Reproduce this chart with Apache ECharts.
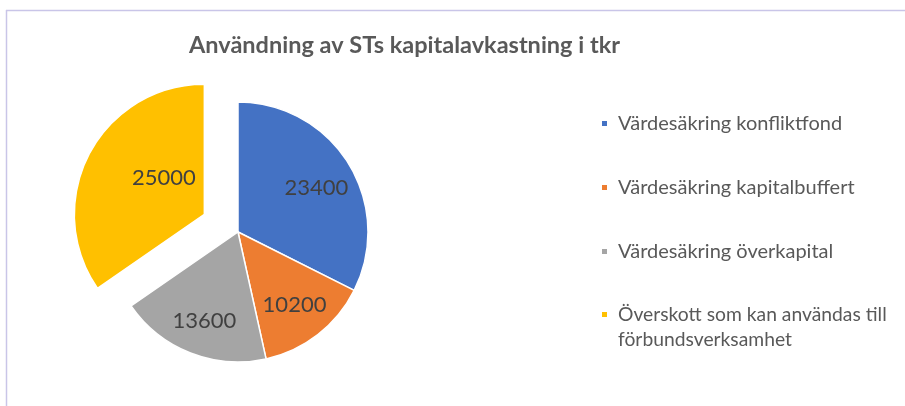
<!DOCTYPE html>
<html>
<head>
<meta charset="utf-8">
<script src="https://cdn.jsdelivr.net/npm/echarts@6/dist/echarts.min.js"></script>
<style>
  html, body { margin: 0; padding: 0; background: #fff; }
  #chart { width: 905px; height: 406px; }
</style>
</head>
<body>
<div id="chart"></div>
<script>
  var titleText = 'Användning av STs kapitalavkastning i tkr';
  var categories = [
    'Värdesäkring konfliktfond',
    'Värdesäkring kapitalbuffert',
    'Värdesäkring överkapital',
    'Överskott som kan användas till förbundsverksamhet'
  ];
  var values = [23400, 10200, 13600, 25000];
  var colors = ['#4472C4', '#ED7D31', '#A5A5A5', '#FFC000'];
  var explodedIndex = 3;

  var font = 'Lato, Carlito, "Liberation Sans", sans-serif';

  function pieData(withColor) {
    return values.map(function (v, i) {
      return {
        name: categories[i],
        value: v,
        selected: i === explodedIndex,
        itemStyle: withColor ? { color: colors[i] } : { color: 'rgba(0,0,0,0)', borderWidth: 0 }
      };
    });
  }

  var legendText = {
    fontFamily: font,
    fontSize: 20,
    color: '#595959',
    lineHeight: 25,
    padding: [0, 0, 0, 5]
  };

  var chart = echarts.init(document.getElementById('chart'));
  chart.setOption({
    animation: false,
    // titel
    title: {
      text: titleText,
      left: 184,
      top: 28,
      textStyle: { fontFamily: font, fontSize: 23.5, fontWeight: 'bold', color: '#595959' }
    },
    // ram (övre och vänstra kanten)
    graphic: [
      { type: 'line', shape: { x1: 6, y1: 10.5, x2: 905, y2: 10.5 }, style: { stroke: '#c9c5e8', lineWidth: 1.5 }, silent: true },
      { type: 'line', shape: { x1: 6.5, y1: 10, x2: 6.5, y2: 406 }, style: { stroke: '#c9c5e8', lineWidth: 1.5 }, silent: true }
    ],
    legend: [
      {
        orient: 'vertical',
        left: 600,
        top: 111,
        padding: 0,
        icon: 'rect',
        itemWidth: 7,
        itemHeight: 7,
        itemGap: 39,
        selectedMode: false,
        data: categories.slice(0, 3),
        textStyle: legendText
      },
      {
        // sista posten bryts på två rader; markören sitter vid första raden
        orient: 'vertical',
        left: 600,
        top: 302,
        padding: 0,
        icon: 'path://M0,0L7,0L7,7L0,7ZM0,32L7,32',
        itemWidth: 7,
        itemHeight: 32,
        selectedMode: false,
        data: categories.slice(3),
        textStyle: Object.assign({}, legendText, {
          fontSize: 19.3,
          width: 300,
          overflow: 'break'
        })
      }
    ],
    series: [
      {
        name: 'Kapitalavkastning',
        type: 'pie',
        center: [238, 232],
        radius: [0, 130],
        startAngle: 90,
        clockwise: true,
        selectedMode: 'single',
        selectedOffset: 38,
        silent: true,
        label: { show: false },
        labelLine: { show: false },
        itemStyle: { borderColor: '#fff', borderWidth: 1.5 },
        emphasis: { disabled: true },
        data: pieData(true)
      },
      {
        // osynlig ring som bara bär etiketterna
        name: 'Etiketter',
        type: 'pie',
        center: [238, 232],
        radius: [48, 130],
        startAngle: 90,
        clockwise: true,
        selectedMode: 'single',
        selectedOffset: 38,
        silent: true,
        label: {
          show: true,
          position: 'inside',
          formatter: '{c}',
          fontFamily: font,
          fontSize: 22,
          color: '#404040'
        },
        labelLayout: function (p) {
          if (p.dataIndex === explodedIndex) {
            return { dx: 41, dy: 6 };
          }
          if (p.dataIndex === 0) {
            return { dy: 4 };
          }
          if (p.dataIndex === 2) {
            return { dy: 3 };
          }
        },
        emphasis: { disabled: true },
        data: pieData(false)
      }
    ]
  });
</script>
</body>
</html>
